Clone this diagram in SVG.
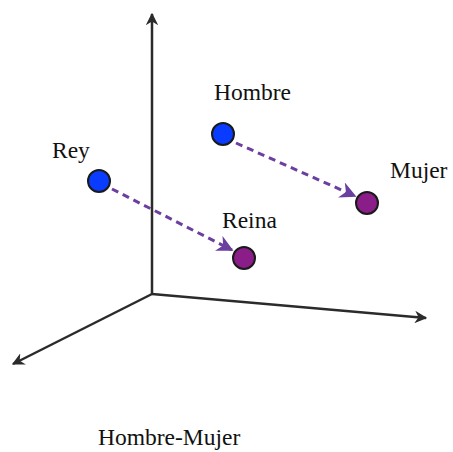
<svg xmlns="http://www.w3.org/2000/svg" width="453" height="452" viewBox="0 0 453 452">
<style>
.axis{stroke:#2b2b2b;stroke-width:2.5;fill:none}
.vec{stroke:#6b3fa0;stroke-width:3;fill:none;stroke-dasharray:7 5}
.lbl{font-family:"Liberation Serif","Times New Roman",serif;font-size:23.5px;fill:#111}
.blue{fill:#0a3cff;stroke:#1a1a1a;stroke-width:2}
.purple{fill:#8a1d88;stroke:#1a1a1a;stroke-width:2}
</style>
<defs>
<marker id="ax" viewBox="0 0 10 10" refX="9" refY="5" markerWidth="5" markerHeight="5" orient="auto" markerUnits="strokeWidth">
<path d="M0,0 L10,5 L0,10 L3,5 Z" fill="#2b2b2b"/>
</marker>
<marker id="vh" viewBox="0 0 10 10" refX="9" refY="5" markerWidth="5.5" markerHeight="5.5" orient="auto" markerUnits="strokeWidth">
<path d="M0,0 L10,5 L0,10 L3,5 Z" fill="#6b3fa0"/>
</marker>
</defs>
<rect width="453" height="452" fill="#ffffff"/>
<g id="connectors">
<line class="axis" x1="152" y1="294" x2="152" y2="14" marker-end="url(#ax)"/>
<line class="axis" x1="152" y1="294" x2="426" y2="318" marker-end="url(#ax)"/>
<line class="axis" x1="152" y1="294" x2="13" y2="364" marker-end="url(#ax)"/>
<line class="vec" x1="112" y1="189" x2="232" y2="250" marker-end="url(#vh)"/>
<line class="vec" x1="236" y1="143" x2="355" y2="196" marker-end="url(#vh)"/>
</g>
<g id="rey"><circle class="blue" cx="99" cy="181" r="11"/><text class="lbl" x="52" y="158">Rey</text></g>
<g id="hombre"><circle class="blue" cx="223" cy="134" r="11"/><text class="lbl" x="214" y="100">Hombre</text></g>
<g id="mujer"><circle class="purple" cx="367" cy="203" r="11"/><text class="lbl" x="390" y="178">Mujer</text></g>
<g id="reina"><circle class="purple" cx="244" cy="258" r="11"/><text class="lbl" x="222" y="228">Reina</text></g>
<text class="lbl" x="98" y="445">Hombre-Mujer</text>
</svg>
